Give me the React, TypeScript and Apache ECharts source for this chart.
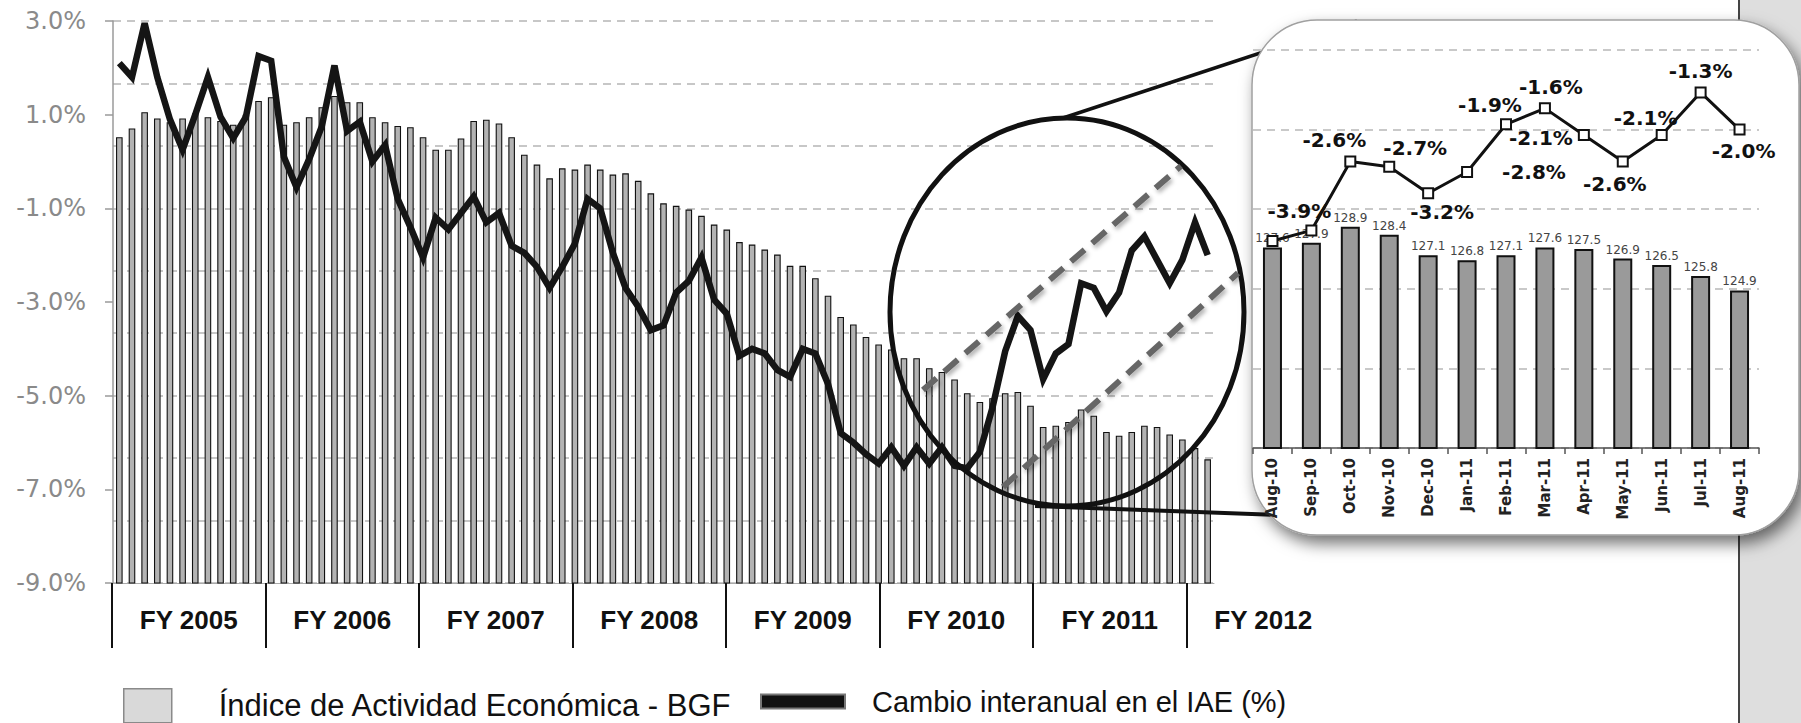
import React, { useEffect, useRef } from 'react';
import * as echarts from 'echarts';

// ---------- DATA ----------
const months = [
  'Jun-04', 'Jul-04', 'Aug-04', 'Sep-04', 'Oct-04', 'Nov-04', 'Dec-04',
  'Jan-05', 'Feb-05', 'Mar-05', 'Apr-05', 'May-05', 'Jun-05', 'Jul-05', 'Aug-05', 'Sep-05', 'Oct-05', 'Nov-05', 'Dec-05',
  'Jan-06', 'Feb-06', 'Mar-06', 'Apr-06', 'May-06', 'Jun-06', 'Jul-06', 'Aug-06', 'Sep-06', 'Oct-06', 'Nov-06', 'Dec-06',
  'Jan-07', 'Feb-07', 'Mar-07', 'Apr-07', 'May-07', 'Jun-07', 'Jul-07', 'Aug-07', 'Sep-07', 'Oct-07', 'Nov-07', 'Dec-07',
  'Jan-08', 'Feb-08', 'Mar-08', 'Apr-08', 'May-08', 'Jun-08', 'Jul-08', 'Aug-08', 'Sep-08', 'Oct-08', 'Nov-08', 'Dec-08',
  'Jan-09', 'Feb-09', 'Mar-09', 'Apr-09', 'May-09', 'Jun-09', 'Jul-09', 'Aug-09', 'Sep-09', 'Oct-09', 'Nov-09', 'Dec-09',
  'Jan-10', 'Feb-10', 'Mar-10', 'Apr-10', 'May-10', 'Jun-10', 'Jul-10', 'Aug-10', 'Sep-10', 'Oct-10', 'Nov-10', 'Dec-10',
  'Jan-11', 'Feb-11', 'Mar-11', 'Apr-11', 'May-11', 'Jun-11', 'Jul-11', 'Aug-11',
];

// Índice de Actividad Económica - BGF (monthly index)
const indexValues = [
  150.7, 151.4, 152.7, 152.2, 151.9, 152.2, 152.6,
  152.3, 152.0, 151.7, 152.5, 153.6, 153.9, 151.7, 151.9, 152.3, 153.1, 154.0,
  153.5, 153.5, 152.3, 151.9, 151.6, 151.5, 150.7, 149.7, 149.7, 150.6, 152.0, 152.1,
  151.8, 150.7, 149.3, 148.5, 147.4, 148.2, 148.1, 148.5, 148.1, 147.7, 147.8, 147.2,
  146.2, 145.4, 145.2, 144.9, 144.4, 143.7, 143.3, 142.3, 142.1, 141.7, 141.3, 140.4,
  140.4, 139.4, 138.0, 136.3, 135.7, 134.7, 134.1, 133.7, 133.0, 133.0, 132.2, 131.9,
  131.3, 130.2, 129.5, 129.8, 130.2, 130.3, 129.2, 127.5, 127.6, 127.9, 128.9, 128.4,
  127.1, 126.8, 127.1, 127.6, 127.5, 126.9, 126.5, 125.8, 124.9,
];

// Cambio interanual en el IAE (%)
const yoyChange = [
  2.1, 1.8, 2.95, 1.8, 0.9, 0.25, 1.0,
  1.8, 0.95, 0.5, 0.95, 2.25, 2.15, 0.1, -0.55, 0.05, 0.75, 2.05,
  0.65, 0.85, 0.0, 0.35, -0.8, -1.4, -2.05, -1.2, -1.45, -1.1, -0.75, -1.3,
  -1.1, -1.8, -1.95, -2.25, -2.7, -2.25, -1.75, -0.8, -1.0, -1.95, -2.7, -3.1,
  -3.6, -3.5, -2.8, -2.55, -2.05, -2.95, -3.25, -4.15, -4.0, -4.1, -4.45, -4.6,
  -4.0, -4.1, -4.75, -5.8, -6.0, -6.25, -6.45, -6.1, -6.5, -6.1, -6.45, -6.1,
  -6.5, -6.55, -6.2, -5.25, -4.05, -3.3, -3.6, -4.65, -4.1, -3.9, -2.6, -2.7,
  -3.2, -2.8, -1.9, -1.6, -2.1, -2.6, -2.1, -1.3, -2.0,
];

const fiscalYears = ['FY 2005', 'FY 2006', 'FY 2007', 'FY 2008', 'FY 2009', 'FY 2010', 'FY 2011', 'FY 2012'];
const fySpacerSlots = ['', '', ''];

const leftAxisTicks = { min: -9, max: 3, step: 2 };
const indexAxis = { min: 115, max: 160, step: 5 };
const insetIndexAxis = { min: 115, max: 140, step: 5 };
const insetChangeAxis = { min: -8, max: -0.5 };

const INSET_START = 74; // Aug-10

const LEGEND_BAR = 'Índice de Actividad Económica - BGF';
const LEGEND_LINE = 'Cambio interanual en el IAE (%)';

// label placement for the zoomed inset line (style only)
const insetLabelPlacement: any[] = [
  null,
  { position: 'top', offset: [-12, 2] },
  { position: 'top', offset: [-16, 0] },
  { position: 'top', offset: [26, 2] },
  { position: 'bottom', offset: [14, -2] },
  { position: 'right', offset: [24, 0] },
  { position: 'top', offset: [-16, 2] },
  { position: 'top', offset: [6, 0] },
  { position: 'left', offset: [0, 3] },
  { position: 'bottom', offset: [-8, 2] },
  { position: 'top', offset: [-16, 4] },
  { position: 'top', offset: [0, 0] },
  { position: 'bottom', offset: [4, 0] },
];

function buildOption() {
  const offset = -leftAxisTicks.min;
  const insetMonths = months.slice(INSET_START);
  const insetBars = indexValues.slice(INSET_START);
  const insetLine = yoyChange.slice(INSET_START).map((v, k) => {
    const p = insetLabelPlacement[k];
    return {
      value: v,
      label: p ? { show: true, position: p.position, offset: p.offset } : { show: false },
    };
  });
  const fySlots = [...fiscalYears, ...fySpacerSlots];

  return {
    animation: false,
    backgroundColor: '#ffffff',
    grid: [
      { left: 113, top: 21, width: 1101, height: 562, outerBoundsMode: 'none' },
      { left: 112, top: 21, width: 153.5 * fySlots.length, height: 562, outerBoundsMode: 'none' },
      { left: 1253, top: 50, width: 506, height: 398, outerBoundsMode: 'none' },
    ],
    xAxis: [
      {
        gridIndex: 0, type: 'category', data: months,
        axisLabel: { show: false }, axisTick: { show: false },
        axisLine: { show: true, lineStyle: { color: '#aaaaaa', width: 1 } },
      },
      {
        gridIndex: 1, type: 'category', data: fySlots,
        axisLine: { show: false, onZero: false },
        axisTick: {
          show: true, length: 65,
          interval: (i: number) => i < fiscalYears.length,
          lineStyle: { color: '#111111', width: 2 },
        },
        axisLabel: {
          interval: 0, margin: 24, fontSize: 26, fontWeight: 'bold',
          fontFamily: 'Liberation Sans', color: '#111111',
        },
        splitLine: { show: false },
      },
      {
        gridIndex: 2, type: 'category', data: insetMonths, z: 11,
        axisLine: { show: true, lineStyle: { color: '#555555', width: 1.5 } },
        axisTick: { show: true, length: 6, lineStyle: { color: '#555555', width: 1.5 } },
        axisLabel: {
          rotate: 90, interval: 0, margin: 10, fontSize: 15, fontWeight: 'bold',
          fontFamily: 'DejaVu Sans', color: '#222222',
        },
      },
    ],
    yAxis: [
      {
        gridIndex: 0, type: 'value', position: 'left',
        min: 0, max: leftAxisTicks.max - leftAxisTicks.min, interval: leftAxisTicks.step,
        axisLine: { show: true, lineStyle: { color: '#9a9a9a', width: 1.5 } },
        axisTick: { show: true, length: 8, lineStyle: { color: '#9a9a9a', width: 1.5 } },
        axisLabel: {
          margin: 27, fontSize: 24, fontFamily: 'DejaVu Sans', color: '#8a8a8a',
          formatter: (v: number) => (v - offset).toFixed(1) + '%',
        },
        splitLine: { show: false },
      },
      {
        gridIndex: 0, type: 'value', position: 'right',
        min: indexAxis.min, max: indexAxis.max, interval: indexAxis.step,
        axisLine: { show: false }, axisTick: { show: false }, axisLabel: { show: false },
        splitLine: { show: true, lineStyle: { color: '#b5b5b5', width: 1.5, type: [8, 6] } },
      },
      { gridIndex: 1, type: 'value', show: false, splitLine: { show: false } },
      {
        gridIndex: 2, type: 'value', z: 11,
        min: insetIndexAxis.min, max: insetIndexAxis.max, interval: insetIndexAxis.step,
        axisLine: { show: false }, axisTick: { show: false }, axisLabel: { show: false },
        splitLine: { show: true, lineStyle: { color: '#b8b8b8', width: 1.5, type: [8, 6] } },
      },
      {
        gridIndex: 2, type: 'value', show: false,
        min: insetChangeAxis.min, max: insetChangeAxis.max, splitLine: { show: false },
      },
    ],
    legend: [
      {
        left: 123, top: 688, padding: 0, itemWidth: 48, itemHeight: 34, selectedMode: false,
        data: [{ name: LEGEND_BAR, icon: 'rect', itemStyle: { color: '#d9d9d9', borderColor: '#8a8a8a', borderWidth: 1.5 } }],
        textStyle: { fontSize: 31, fontFamily: 'Liberation Sans', color: '#111111', padding: [0, 0, 0, 42] },
      },
      {
        left: 760, top: 687, padding: 0, itemWidth: 84, itemHeight: 14, selectedMode: false,
        data: [{ name: LEGEND_LINE, icon: 'rect', itemStyle: { color: '#111111', borderColor: '#777777', borderWidth: 2 } }],
        textStyle: { fontSize: 29, fontFamily: 'Liberation Sans', color: '#111111', padding: [0, 0, 0, 22] },
      },
    ],
    series: [
      {
        name: LEGEND_BAR, type: 'bar', xAxisIndex: 0, yAxisIndex: 1, data: indexValues,
        barWidth: 6.6, z: 2,
        itemStyle: { color: '#b3b3b3', borderColor: '#111111', borderWidth: 1.1 },
      },
      {
        name: LEGEND_LINE, type: 'line', xAxisIndex: 0, yAxisIndex: 0,
        data: yoyChange.map((v) => v + offset),
        symbol: 'none', clip: false, z: 4,
        lineStyle: { color: '#151515', width: 6.5, join: 'miter' },
        itemStyle: { color: '#151515' },
      },
      {
        name: 'inset-index', type: 'bar', xAxisIndex: 2, yAxisIndex: 3, data: insetBars,
        barWidth: 19, z: 12,
        itemStyle: { color: '#9a9a9a', borderColor: '#111111', borderWidth: 2 },
        label: { show: true, position: 'top', distance: 3, fontSize: 12, color: '#444444', fontFamily: 'DejaVu Sans' },
      },
      {
        name: 'inset-change', type: 'line', xAxisIndex: 2, yAxisIndex: 4, data: insetLine,
        symbol: 'rect', symbolSize: 10, z: 13,
        itemStyle: { color: '#ffffff', borderColor: '#111111', borderWidth: 2 },
        lineStyle: { color: '#111111', width: 3 },
        label: {
          show: true, fontSize: 20, fontWeight: 'bold', fontFamily: 'DejaVu Sans', color: '#111111',
          formatter: (p: any) => Number(p.value).toFixed(1) + '%',
        },
      },
    ],
    graphic: {
      elements: [
        { type: 'line', z: 5, shape: { x1: 1063, y1: 118, x2: 1357, y2: 21 }, style: { stroke: '#111111', lineWidth: 3.5 } },
        { type: 'line', z: 5, shape: { x1: 1035, y1: 506, x2: 1305, y2: 516 }, style: { stroke: '#111111', lineWidth: 4 } },
        { type: 'ellipse', z: 5, shape: { cx: 1067, cy: 312, rx: 177, ry: 194 }, style: { fill: 'none', stroke: '#111111', lineWidth: 5 } },
        {
          type: 'line', z: 5, shape: { x1: 923, y1: 390, x2: 1181, y2: 166 },
          style: { stroke: '#666666', lineWidth: 6, lineDash: [18, 10], shadowBlur: 4, shadowColor: 'rgba(0,0,0,0.3)', shadowOffsetX: 2, shadowOffsetY: 3 },
        },
        {
          type: 'line', z: 5, shape: { x1: 1003, y1: 487, x2: 1238, y2: 273 },
          style: { stroke: '#666666', lineWidth: 6, lineDash: [18, 10], shadowBlur: 4, shadowColor: 'rgba(0,0,0,0.3)', shadowOffsetX: 2, shadowOffsetY: 3 },
        },
        { type: 'rect', z: 6, shape: { x: 1739, y: 0, width: 62, height: 723 }, style: { fill: '#dedede' } },
        { type: 'line', z: 6, shape: { x1: 1739, y1: 0, x2: 1739, y2: 723 }, style: { stroke: '#444444', lineWidth: 2 } },
        {
          type: 'rect', z: 10, shape: { x: 1252, y: 20, width: 547, height: 515, r: 65 },
          style: {
            fill: '#ffffff', stroke: '#a0a0a0', lineWidth: 1.5,
            shadowBlur: 16, shadowColor: 'rgba(0,0,0,0.55)', shadowOffsetX: 5, shadowOffsetY: 8,
          },
        },
      ],
    },
  };
}

export default function App() {
  const ref = useRef<HTMLDivElement>(null);
  useEffect(() => {
    if (!ref.current) return;
    const chart = echarts.init(ref.current, null, { renderer: 'svg' });
    chart.setOption(buildOption() as any);
    return () => chart.dispose();
  }, []);
  return (
    <div
      ref={ref}
      style={{ position: 'absolute', left: 0, top: 0, width: '1801px', height: '723px', background: '#ffffff' }}
    />
  );
}
